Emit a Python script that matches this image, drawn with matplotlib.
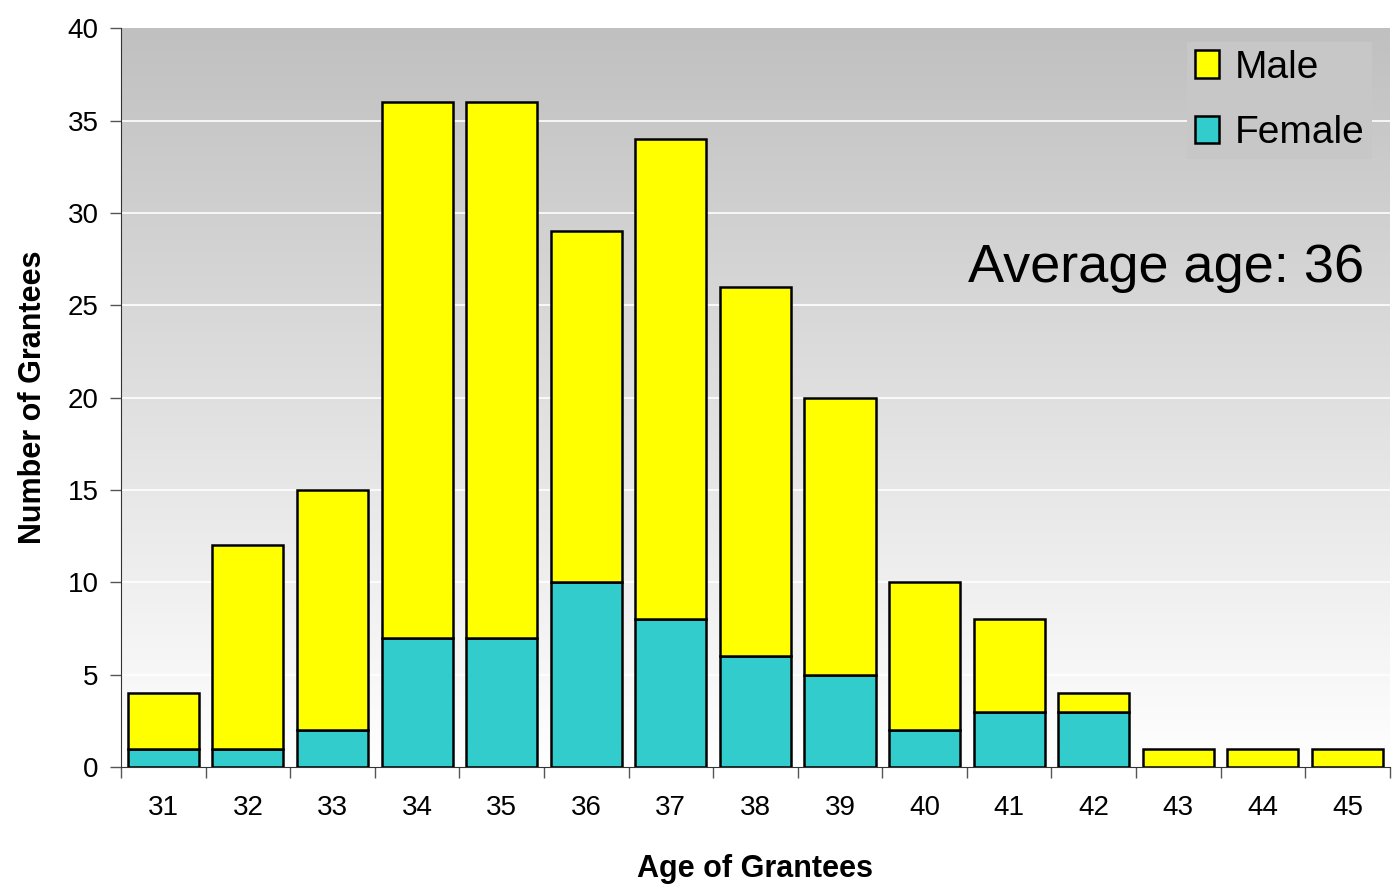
import numpy as np
import matplotlib
matplotlib.use("Agg")
import matplotlib.pyplot as plt
from matplotlib.patches import Patch

ages = ["31", "32", "33", "34", "35", "36", "37", "38", "39", "40", "41", "42", "43", "44", "45"]
female = [1, 1, 2, 7, 7, 10, 8, 6, 5, 2, 3, 3, 0, 0, 0]
male = [3, 11, 13, 29, 29, 19, 26, 20, 15, 8, 5, 1, 1, 1, 1]

plt.rcParams["font.family"] = ["Liberation Sans", "DejaVu Sans"]

fig = plt.figure(figsize=(13.94, 8.85), dpi=100)
ax = fig.add_axes([0.0868, 0.1333, 0.9102, 0.8347])

x = np.arange(len(ages))
yellow = "#FFFF00"
teal = "#33CCCC"

# gray-to-white background gradient
grad = np.linspace(192, 255, 256)[:, None] / 255.0
grad = np.repeat(grad, 2, axis=1)
ax.imshow(np.dstack([grad, grad, grad]), extent=[0, 1, 0, 1], transform=ax.transAxes,
          aspect="auto", zorder=0, origin="upper")

for yv in range(5, 40, 5):
    ax.axhline(yv, color="white", lw=1.2, zorder=1)

ax.bar(x, female, width=0.84, color=teal, edgecolor="black", lw=1.8, zorder=3)
ax.bar(x, male, width=0.84, bottom=female, color=yellow, edgecolor="black", lw=1.8, zorder=3)

ax.set_xlim(-0.5, len(ages) - 0.5)
ax.set_ylim(0, 40)
ax.set_yticks(range(0, 41, 5))
ax.set_xticks(x)
ax.set_xticklabels(ages)
ax.set_xticks(np.arange(-0.5, len(ages), 1), minor=True)
ax.tick_params(axis="x", which="major", length=0, labelsize=20, pad=20)
ax.tick_params(axis="x", which="minor", length=8, width=1, color="#555555")
ax.tick_params(axis="y", length=8, width=1, color="#555555", labelsize=20, pad=8)

for s in ["top", "right"]:
    ax.spines[s].set_visible(False)
ax.spines["left"].set_color("#333333")
ax.spines["bottom"].set_color("#333333")

ax.set_xlabel("Age of Grantees", fontsize=22, fontweight="bold", labelpad=24)
ax.set_ylabel("Number of Grantees", fontsize=22, fontweight="bold", labelpad=14)

handles = [Patch(facecolor=yellow, edgecolor="black", lw=1.8, label="Male"),
           Patch(facecolor=teal, edgecolor="black", lw=1.8, label="Female")]
leg = ax.legend(handles=handles, loc="upper right", bbox_to_anchor=(0.9968, 1.0),
                fontsize=28, frameon=True,
                facecolor="#C7C7C7", edgecolor="none", framealpha=1, fancybox=False,
                handlelength=0.62, handleheight=0.7, handletextpad=0.4,
                labelspacing=0.75, borderaxespad=0.35, borderpad=0.2)

ax.text(0.9795, 0.675, "Average age: 36", transform=ax.transAxes, fontsize=39,
        ha="right", va="center", zorder=5)

fig.savefig("out.png", dpi=100)
